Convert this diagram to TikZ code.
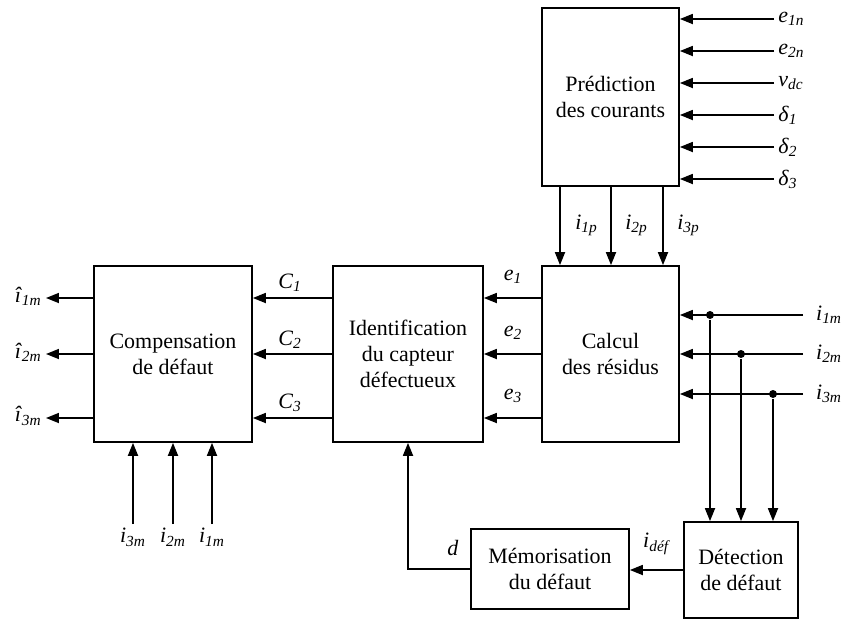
\documentclass[tikz,border=0pt]{standalone}
\usepackage{fontspec}
\setmainfont{Liberation Serif}
\usetikzlibrary{arrows.meta}
\newcommand{\sig}[2]{\textit{#1}\textsubscript{\textit{#2}}}

\begin{document}
\begin{tikzpicture}[
    x=0.02cm, y=-0.02cm, line width=1pt,
    >={Triangle[length=2.6mm, width=2mm]},
    blk/.style={rectangle, draw, align=center, inner sep=0pt,
                font=\fontsize{12.5}{14.8}\selectfont},
    lbl/.style={inner sep=2pt, font=\fontsize{12.5}{14}\selectfont},
    dot/.style={circle, fill, inner sep=0pt, minimum size=1.6mm}
]
    \useasboundingbox (0,0) rectangle (846,619);

    \node[blk, minimum width=2.74cm, minimum height=3.56cm] (pred) at (610.5, 97) {Prédiction\\des courants};
    \node[blk, minimum width=2.74cm, minimum height=3.52cm] (calc) at (610.5, 354) {Calcul\\des résidus};
    \node[blk, minimum width=3.0cm, minimum height=3.52cm] (ident) at (408, 354) {Identification\\du capteur\\défectueux};
    \node[blk, minimum width=3.16cm, minimum height=3.52cm] (comp) at (173, 354) {Compensation\\de défaut};
    \node[blk, minimum width=3.16cm, minimum height=1.6cm] (mem) at (550, 569) {Mémorisation\\du défaut};
    \node[blk, minimum width=2.28cm, minimum height=1.92cm] (det) at (741, 570) {Détection\\de défaut};

    \node[lbl, anchor=west] (e1n) at (774, 19) {\sig{e}{1n}};
    \node[lbl, anchor=west] (e2n) at (774, 51) {\sig{e}{2n}};
    \node[lbl, anchor=west] (vdc) at (774, 83) {\sig{v}{dc}};
    \node[lbl, anchor=west] (d1) at (774, 115) {\sig{δ}{1}};
    \node[lbl, anchor=west] (d2) at (774, 147) {\sig{δ}{2}};
    \node[lbl, anchor=west] (d3) at (774, 179) {\sig{δ}{3}};
    \draw[->] (e1n) -- (e1n -| pred.east);
    \draw[->] (e2n) -- (e2n -| pred.east);
    \draw[->] (vdc) -- (vdc -| pred.east);
    \draw[->] (d1) -- (d1 -| pred.east);
    \draw[->] (d2) -- (d2 -| pred.east);
    \draw[->] (d3) -- (d3 -| pred.east);

    \coordinate (p1) at (560, 186);
    \coordinate (p2) at (611, 186);
    \coordinate (p3) at (663, 186);
    \draw[->] (p1) -- (p1 |- calc.north);
    \draw[->] (p2) -- (p2 |- calc.north);
    \draw[->] (p3) -- (p3 |- calc.north);
    \node[lbl, anchor=west] (i1p) at (571, 225) {\sig{i}{1p}};
    \node[lbl, anchor=west] (i2p) at (621, 225) {\sig{i}{2p}};
    \node[lbl, anchor=west] (i3p) at (673, 225) {\sig{i}{3p}};

    \coordinate (y1) at (0, 298);
    \coordinate (y2) at (0, 354);
    \coordinate (y3) at (0, 418);
    \draw[->] (calc.west |- y1) -- (ident.east |- y1);
    \draw[->] (calc.west |- y2) -- (ident.east |- y2);
    \draw[->] (calc.west |- y3) -- (ident.east |- y3);
    \node[lbl] (e1) at (513, 277) {\sig{e}{1}};
    \node[lbl] (e2) at (513, 333) {\sig{e}{2}};
    \node[lbl] (e3) at (513, 396) {\sig{e}{3}};

    \draw[->] (ident.west |- y1) -- (comp.east |- y1);
    \draw[->] (ident.west |- y2) -- (comp.east |- y2);
    \draw[->] (ident.west |- y3) -- (comp.east |- y3);
    \node[lbl] (c1) at (290, 283) {\sig{C}{1}};
    \node[lbl] (c2) at (290, 340) {\sig{C}{2}};
    \node[lbl] (c3) at (290, 403) {\sig{C}{3}};

    \node[lbl, anchor=east] (o1m) at (46, 296) {\sig{\^{\i}}{1m}};
    \node[lbl, anchor=east] (o2m) at (46, 352) {\sig{\^{\i}}{2m}};
    \node[lbl, anchor=east] (o3m) at (46, 416) {\sig{\^{\i}}{3m}};
    \draw[->] (comp.west |- y1) -- (o1m.east |- y1);
    \draw[->] (comp.west |- y2) -- (o2m.east |- y2);
    \draw[->] (comp.west |- y3) -- (o3m.east |- y3);

    \node[lbl, anchor=north] (b3m) at (133, 524) {\sig{i}{3m}};
    \node[lbl, anchor=north] (b2m) at (173, 524) {\sig{i}{2m}};
    \node[lbl, anchor=north] (b1m) at (212, 524) {\sig{i}{1m}};
    \draw[->] (b3m) -- (b3m |- comp.south);
    \draw[->] (b2m) -- (b2m |- comp.south);
    \draw[->] (b1m) -- (b1m |- comp.south);

    \node[lbl, anchor=west, inner xsep=7pt] (i1m) at (803, 315) {\sig{i}{1m}};
    \node[lbl, anchor=west, inner xsep=7pt] (i2m) at (803, 354) {\sig{i}{2m}};
    \node[lbl, anchor=west, inner xsep=7pt] (i3m) at (803, 394) {\sig{i}{3m}};
    \draw[->] (i1m) -- (i1m -| calc.east);
    \draw[->] (i2m) -- (i2m -| calc.east);
    \draw[->] (i3m) -- (i3m -| calc.east);
    \node[dot] (j1) at (710, 315) {};
    \node[dot] (j2) at (741, 354) {};
    \node[dot] (j3) at (773, 394) {};
    \draw[->] (j1) -- (j1 |- det.north);
    \draw[->] (j2) -- (j2 |- det.north);
    \draw[->] (j3) -- (j3 |- det.north);

    \draw[->] (det.west) -- (det.west -| mem.east);
    \node[lbl] (idef) at (657, 544) {\sig{i}{déf}};
    \draw[->] (mem.west) -| (ident.south);
    \node[lbl] (dd) at (453, 548) {\textit{d}};
\end{tikzpicture}
\end{document}
